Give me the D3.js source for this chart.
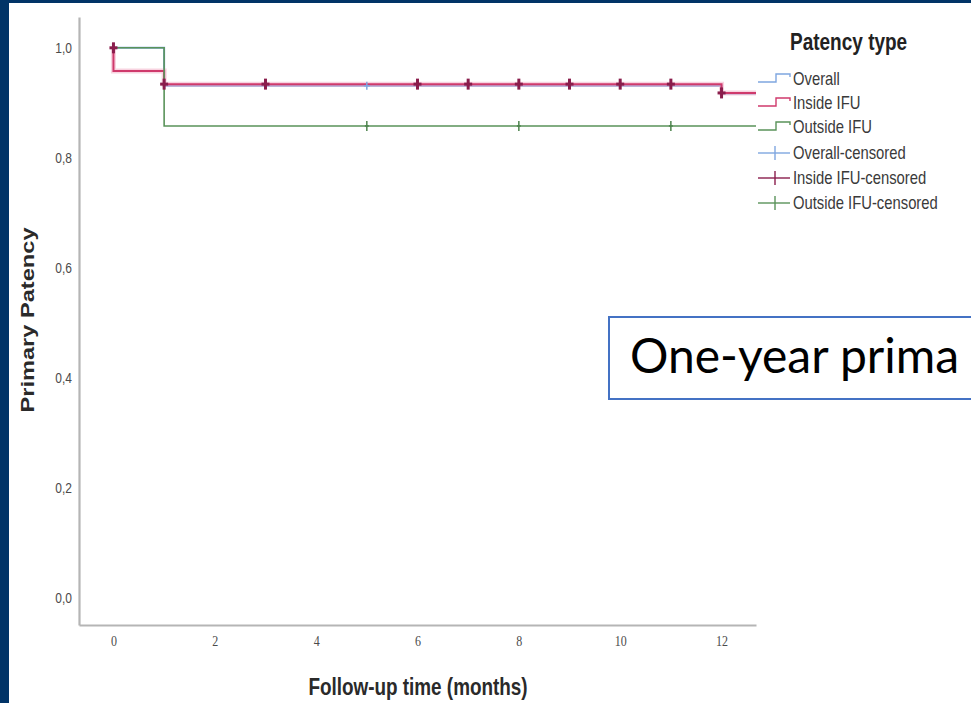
<!DOCTYPE html>
<html><head><meta charset="utf-8">
<script src="https://cdn.jsdelivr.net/npm/d3@7"></script>
<style>html,body{margin:0;padding:0;background:#fff;overflow:hidden}</style>
</head><body>
<script>
// ---- data ----
const xTicks = [0, 2, 4, 6, 8, 10, 12];
const yTicks = [0, 0.2, 0.4, 0.6, 0.8, 1.0];
const seriesNames = ["Overall", "Inside IFU", "Outside IFU"];
// step curve points: time (months), survival
const overallTimes = [0, 1, 12, 12.68];
const overallSurv  = [1.0, 0.931, 0.917, 0.917];
const insideTimes  = [0, 0, 1, 12, 12.68];
const insideSurv   = [1.0, 0.958, 0.934, 0.918, 0.918];
const outsideTimes = [0, 1, 12.68];
const outsideSurv  = [1.0, 0.858, 0.858];
// censored marks
const overallCensT = [5];
const overallCensS = [0.931];
const insideCensT  = [0, 1, 3, 6, 7, 8, 9, 10, 11, 12];
const insideCensS  = [1.0, 0.934, 0.934, 0.934, 0.934, 0.934, 0.934, 0.934, 0.934, 0.918];
const outsideCensT = [5, 8, 11];
const outsideCensS = [0.858, 0.858, 0.858];

const W = 971, H = 703;
const svg = d3.select("body").append("svg").attr("width", W).attr("height", H);
svg.append("rect").attr("width", W).attr("height", H).attr("fill", "#fff");
// navy frame
svg.append("rect").attr("x", 0).attr("y", 0).attr("width", 9).attr("height", H).attr("fill", "#013467");
svg.append("rect").attr("x", 0).attr("y", 0).attr("width", W).attr("height", 3).attr("fill", "#013467");

const x = d3.scaleLinear().domain([-0.68, 12.68]).range([79, 756]);
const y = d3.scaleLinear().domain([-0.049, 1.056]).range([625, 17]);

const fmt = d => d3.format(".1f")(d).replace(".", ",");
const axisCol = "#b5b5b5";

const gy = svg.append("g").attr("transform", "translate(79,0)")
  .call(d3.axisLeft(y).tickValues(yTicks).tickFormat(fmt).tickSize(0).tickSizeOuter(0).tickPadding(7));
gy.select(".domain").attr("stroke", axisCol).attr("stroke-width", 2.2);
gy.selectAll(".tick text").attr("font-family", "Liberation Sans, Arial, sans-serif").attr("font-size", 12)
  .style("fill", "#4a4a4a").attr("transform", "scale(1,1.25)").attr("dy", "0.3em");

const gx = svg.append("g").attr("transform", "translate(0,625)")
  .call(d3.axisBottom(x).tickValues(xTicks).tickFormat(d3.format("d")).tickSize(0).tickSizeOuter(0).tickPadding(8));
gx.select(".domain").attr("stroke", axisCol).attr("stroke-width", 2.2);
gx.selectAll(".tick text").attr("font-family", "Liberation Serif, Times New Roman, serif").attr("font-size", 12)
  .style("fill", "#4a4a4a").attr("transform", "scale(1,1.25)");

// axis titles
svg.append("text").attr("transform", "translate(34,320) rotate(-90) scale(1.25,1)")
  .attr("text-anchor", "middle").attr("font-family", "Liberation Sans, Arial, sans-serif")
  .attr("font-weight", "bold").attr("font-size", 18.9).attr("fill", "#2a2a2a").text("Primary Patency");
svg.append("text").attr("transform", "translate(418,695) scale(1,1.25)")
  .attr("text-anchor", "middle").attr("font-family", "Liberation Sans, Arial, sans-serif")
  .attr("font-weight", "bold").attr("font-size", 18.9).attr("fill", "#2a2a2a").text("Follow-up time (months)");

// curves
const colors = { overall: "#7fa6e0", inside: "#cf3a6c", outside: "#5a935a" };
const censColors = { overall: "#7fa6e0", inside: "#8a1d4c", outside: "#4d844d" };
const line = d3.line().x(d => x(d[0])).y(d => y(d[1])).curve(d3.curveStepAfter);
function pts(t, s) { return t.map((v, i) => [v, s[i]]); }

svg.append("path").datum(pts(overallTimes, overallSurv)).attr("d", line)
  .attr("fill", "none").attr("stroke", colors.overall).attr("stroke-width", 2);
// soft halo for red curve
svg.append("path").datum(pts(insideTimes, insideSurv)).attr("d", line)
  .attr("fill", "none").attr("stroke", "#f2a8c2").attr("stroke-width", 5).attr("stroke-opacity", 0.5);
svg.append("path").datum(pts(insideTimes, insideSurv)).attr("d", line)
  .attr("fill", "none").attr("stroke", colors.inside).attr("stroke-width", 2);
svg.append("path").datum(pts(outsideTimes, outsideSurv)).attr("d", line)
  .attr("fill", "none").attr("stroke", colors.outside).attr("stroke-width", 1.6);

function cens(t, s, col, h, w, sw) {
  const g = svg.append("g");
  pts(t, s).forEach(d => {
    const cx = x(d[0]), cy = y(d[1]);
    g.append("line").attr("x1", cx).attr("x2", cx).attr("y1", cy - h).attr("y2", cy + h)
      .attr("stroke", col).attr("stroke-width", sw);
    g.append("line").attr("x1", cx - w).attr("x2", cx + w).attr("y1", cy).attr("y2", cy)
      .attr("stroke", col).attr("stroke-width", sw);
  });
}
cens(overallCensT, overallCensS, censColors.overall, 4, 3, 1.5);
cens(outsideCensT, outsideCensS, censColors.outside, 5, 2, 1.5);
cens(insideCensT, insideCensS, censColors.inside, 5.5, 4, 3);

// legend
const lg = svg.append("g");
lg.append("text").attr("transform", "translate(790,50) scale(1,1.25)")
  .attr("font-family", "Liberation Sans, Arial, sans-serif").attr("font-weight", "bold")
  .attr("font-size", 19).attr("fill", "#222").text("Patency type");
const legendItems = [
  { label: seriesNames[0], col: colors.overall, type: "step" },
  { label: seriesNames[1], col: colors.inside, type: "step" },
  { label: seriesNames[2], col: colors.outside, type: "step" },
  { label: seriesNames[0] + "-censored", col: colors.overall, type: "cens" },
  { label: seriesNames[1] + "-censored", col: censColors.inside, type: "cens" },
  { label: seriesNames[2] + "-censored", col: colors.outside, type: "cens" }
];
const legendY = [79, 103, 127, 153, 178, 203];
legendItems.forEach((it, i) => {
  const c = legendY[i];
  if (it.type === "step") {
    lg.append("path").attr("d", `M758,${c+3}H776V${c-5}H790V${c-2}`)
      .attr("fill", "none").attr("stroke", it.col).attr("stroke-width", 1.4);
  } else {
    lg.append("line").attr("x1", 758).attr("x2", 790).attr("y1", c).attr("y2", c)
      .attr("stroke", it.col).attr("stroke-width", 1.4);
    lg.append("line").attr("x1", 775).attr("x2", 775).attr("y1", c - 7).attr("y2", c + 7)
      .attr("stroke", it.col).attr("stroke-width", 1.4);
  }
  lg.append("text").attr("transform", `translate(793,${c + 6}) scale(1,1.25)`)
    .attr("font-family", "Liberation Sans, Arial, sans-serif").attr("font-size", 14.8)
    .attr("fill", "#3a3a3a").text(it.label);
});

// overlay text box
svg.append("rect").attr("x", 609).attr("y", 317).attr("width", 400).attr("height", 82)
  .attr("fill", "#fff").attr("stroke", "#4472c4").attr("stroke-width", 2);
svg.append("text").attr("x", 630).attr("y", 373).attr("font-family", "Lato, Open Sans, sans-serif")
  .attr("font-size", 48).attr("fill", "#000").text("One-year prima");
</script>
</body></html>
